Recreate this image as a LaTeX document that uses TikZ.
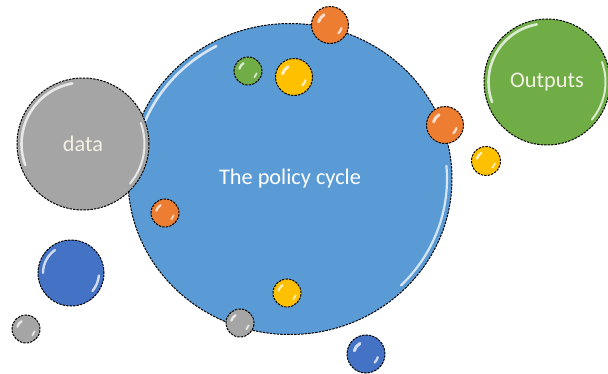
\documentclass[tikz,border=0pt]{standalone}
\usepackage{fontspec}
\setmainfont{Carlito}
\usetikzlibrary{shapes.geometric}
\definecolor{cycleblue}{HTML}{5B9BD5}
\definecolor{darkblue}{HTML}{4472C4}
\definecolor{ballgray}{HTML}{A5A5A5}
\definecolor{ballgreen}{HTML}{70AD47}
\definecolor{ballorange}{HTML}{ED7D31}
\definecolor{ballyellow}{HTML}{FFC000}
\definecolor{labelcream}{HTML}{F3F0E4}
\tikzset{ball/.style={
  circle,
  draw=black,
  line width=1,
  dash pattern=on 2.4pt off 1.1pt,
  inner sep=0pt,
  minimum size=#1}}
\tikzset{gloss/.style={
  white,
  line width=#1,
  line cap=round,
  opacity=.75}}
\tikzset{balllabel/.style={
  text=labelcream,
  font=\fontsize{22.3}{26}\selectfont}}
%% glossy spots on a small ball
\newcommand\shine[2]{%
  \draw[gloss=.16*#2] (#1.center) ++(120:.64*#2) arc[start angle=120,end angle=165,radius=.64*#2];
  \draw[gloss=.12*#2] (#1.center) ++(-15:.64*#2) arc[start angle=-15,end angle=-45,radius=.64*#2];}
%% white rim on a large ball
\newcommand\rim[2]{%
  \draw[gloss=2.6] (#1.center) ++(100:#2-4.5) arc[start angle=100,end angle=200,radius=#2-4.5];
  \draw[gloss=2] (#1.center) ++(20:#2-4.5) arc[start angle=20,end angle=-40,radius=#2-4.5];}

\begin{document}
\begin{tikzpicture}[x=1pt,y=1pt]
  \useasboundingbox (0,0) rectangle (608,373);

  %% The big cycle
  \node[ellipse,draw=black,line width=1,dash pattern=on 2.4pt off 1.1pt,
    fill=cycleblue,minimum width=324,minimum height=311,inner sep=0pt,
    balllabel,text=white] (cycle) at (290,194) {The policy cycle};
  \draw[gloss=2.6] (cycle.center) ++(118:157 and 150.5) arc[start angle=118,end angle=165,x radius=157,y radius=150.5];
  \draw[gloss=2.2] (cycle.center) ++(5:157 and 150.5) arc[start angle=5,end angle=-45,x radius=157,y radius=150.5];

  %% Large balls
  \node[ball=132,fill=ballgray,balllabel] (data) at (83,229) {data};
  \node[ball=126,fill=ballgreen,balllabel] (outputs) at (547,291) {Outputs};
  \node[ball=66,fill=darkblue] (blueleft) at (71,100) {};
  \rim{data}{66}
  \rim{outputs}{63}
  \draw[gloss=2.4] (blueleft.center) ++(125:28) arc[start angle=125,end angle=180,radius=28];
  \draw[gloss=2.4] (blueleft.center) ++(-5:28) arc[start angle=-5,end angle=-40,radius=28];

  %% Small balls
  \node[ball=37,fill=ballorange] (orangetop) at (330,348) {};
  \node[ball=37,fill=ballorange] (orangeright) at (445,248) {};
  \node[ball=28,fill=ballorange] (orangeleft) at (165,160) {};
  \node[ball=37,fill=ballyellow] (yellowtop) at (294,296) {};
  \node[ball=29,fill=ballyellow] (yellowright) at (486,212) {};
  \node[ball=28,fill=ballyellow] (yellowbottom) at (287,80) {};
  \node[ball=28,fill=ballgreen] (greensmall) at (248,302) {};
  \node[ball=28,fill=ballgray] (graysmall) at (26,44) {};
  \node[ball=28,fill=ballgray] (graybottom) at (240,50) {};
  \node[ball=38,fill=darkblue] (bluebottom) at (366,19) {};
  \foreach \b/\r in {orangetop/18.5,orangeright/18.5,orangeleft/14,yellowtop/18.5,
    yellowright/14.5,yellowbottom/14,greensmall/14,graysmall/14,graybottom/14,bluebottom/19}{
    \shine{\b}{\r}
  }

\end{tikzpicture}
\end{document}
